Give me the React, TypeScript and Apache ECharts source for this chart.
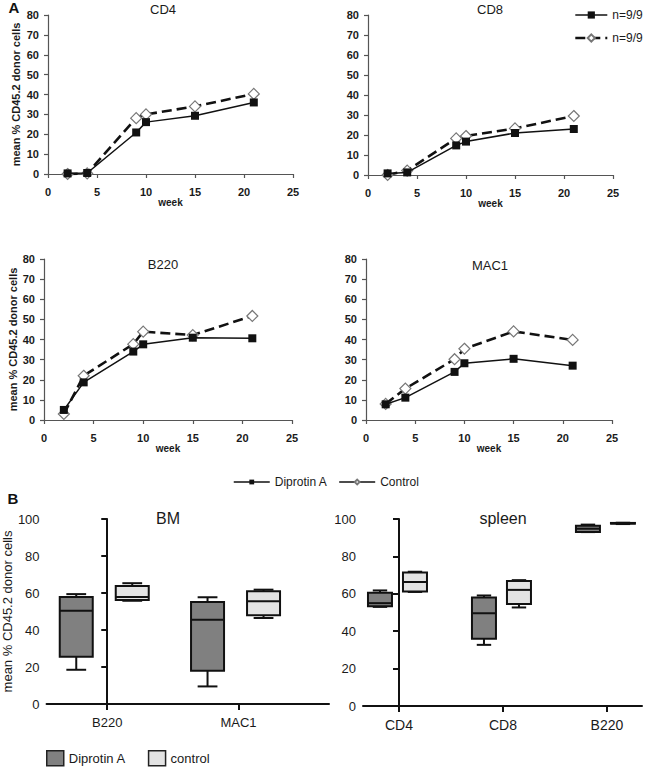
import React, { useEffect, useRef } from "react";
import * as echarts from "echarts";

// ---------- data ----------
const weeks = [2, 4, 9, 10, 15, 21];
const cd4Diprotin = [0.3, 0.5, 20.9, 26.1, 29.3, 36];
const cd4Control = [0, 0.3, 28.1, 30, 34, 40.3];
const cd8Diprotin = [0.8, 1.3, 14.8, 16.7, 21, 23];
const cd8Control = [0, 2.2, 18.3, 19.5, 23.3, 29.5];
const b220Diprotin = [5, 18.7, 34, 37.6, 40.9, 40.6];
const b220Control = [3, 22, 37.7, 43.9, 42.2, 51.7];
const mac1Diprotin = [7.8, 11.1, 23.9, 28.2, 30.4, 27];
const mac1Control = [8, 15.6, 30.2, 35.4, 44, 39.8];
const lineTitles = ["CD4", "CD8", "B220", "MAC1"];

const bmCategories = ["B220", "MAC1"];
// [min, Q1, median, Q3, max]
const bmDiprotin = [
  [18.5, 25.6, 50.4, 57.8, 59.4],
  [9.5, 18, 45.6, 55.1, 57.7],
];
const bmControl = [
  [55.8, 56.2, 57.8, 63.8, 65.3],
  [46.5, 48, 55.5, 61, 61.8],
];
const spleenCategories = ["CD4", "CD8", "B220"];
const spleenDiprotin = [
  [53, 53.3, 55, 60.5, 61.8],
  [32.7, 35.9, 49.6, 58, 59.1],
  [93, 93, 94.8, 96.4, 97],
];
const spleenControl = [
  [61, 61.2, 66.3, 71.4, 71.8],
  [52.7, 54.5, 62.1, 66.8, 67.3],
  [97.3, 97.5, 97.7, 97.9, 98],
];
const boxTitles = ["BM", "spleen"];
const yName = "mean % CD45.2 donor cells";
const legendCount = "n=9/9";

// ---------- layout / style ----------
const FONT = "'Liberation Sans', Arial, Helvetica, sans-serif";
const TXT = "#1a1a1a";
const AXC = "#555";

const lineGrids = [
  { left: 48, top: 15, width: 245, height: 159 },
  { left: 368, top: 15, width: 245, height: 160 },
  { left: 44, top: 259, width: 248, height: 161 },
  { left: 366, top: 259, width: 246, height: 161 },
];
const boxGrids = [
  { left: 45, top: 519, width: 284, height: 185 },
  { left: 363, top: 519, width: 279, height: 187 },
];
const lineTitlePos = [
  [163, 9],
  [490, 9],
  [163, 264],
  [490, 265],
];
const boxTitlePos = [
  [168, 518],
  [503, 518],
];
const lineSets = [
  [cd4Diprotin, cd4Control],
  [cd8Diprotin, cd8Control],
  [b220Diprotin, b220Control],
  [mac1Diprotin, mac1Control],
];
// per panel: [diprotin offset, control offset] (px), box width (px)
const boxOffsets = [
  [-31, 25],
  [-19, 16],
];
const boxWidths = [33, 24];

function boxRenderer(offset: number, width: number, fill: string) {
  return (params: any, api: any) => {
    const k = api.value(0);
    const v = [1, 2, 3, 4, 5].map((d) => api.value(d));
    const xc = api.coord([k, 0])[0] + offset;
    const y = v.map((val) => api.coord([k, val])[1]);
    const [yMin, yQ1, yMed, yQ3, yMax] = y;
    const half = width / 2;
    const cap = width * 0.3;
    const st = { stroke: "#111", lineWidth: 2 };
    return {
      type: "group",
      children: [
        { type: "line", shape: { x1: xc, y1: yMax, x2: xc, y2: yQ3 }, style: st },
        { type: "line", shape: { x1: xc, y1: yQ1, x2: xc, y2: yMin }, style: st },
        { type: "line", shape: { x1: xc - cap, y1: yMax, x2: xc + cap, y2: yMax }, style: st },
        { type: "line", shape: { x1: xc - cap, y1: yMin, x2: xc + cap, y2: yMin }, style: st },
        {
          type: "rect",
          shape: { x: xc - half, y: yQ3, width: width, height: Math.max(yQ1 - yQ3, 0.5) },
          style: { fill, stroke: "#111", lineWidth: 2 },
        },
        { type: "line", shape: { x1: xc - half, y1: yMed, x2: xc + half, y2: yMed }, style: st },
      ],
    };
  };
}

function buildOption() {
  const grid: any[] = [];
  const xAxis: any[] = [];
  const yAxis: any[] = [];
  const series: any[] = [];

  lineGrids.forEach((g, i) => {
    grid.push({ ...g });
    xAxis.push({
      type: "value",
      gridIndex: i,
      min: 0,
      max: 25,
      interval: 5,
      splitLine: { show: false },
      axisLine: { show: true, lineStyle: { color: AXC, width: 1.2 } },
      axisTick: { show: true, length: 4, lineStyle: { color: AXC, width: 1.2 } },
      axisLabel: { margin: 12, fontSize: 11, fontWeight: "bold", color: TXT, fontFamily: FONT },
      name: "week",
      nameLocation: "middle",
      nameGap: 23,
      nameTextStyle: { fontSize: 10, fontWeight: "bold", color: TXT, fontFamily: FONT },
    });
    yAxis.push({
      type: "value",
      gridIndex: i,
      min: 0,
      max: 80,
      interval: 10,
      splitLine: { show: false },
      axisLine: { show: true, lineStyle: { color: AXC, width: 1.2 } },
      axisTick: { show: true, length: 4, lineStyle: { color: AXC, width: 1.2 } },
      axisLabel: { margin: 9, fontSize: 11, fontWeight: "bold", color: TXT, fontFamily: FONT },
      name: i % 2 === 0 ? yName : "",
      nameLocation: "middle",
      nameGap: i === 0 ? 27 : 24,
      nameTextStyle: { fontSize: 11, fontWeight: "bold", color: TXT, fontFamily: FONT },
    });
    const [dip, ctl] = lineSets[i];
    series.push({
      type: "line",
      name: "Control",
      xAxisIndex: i,
      yAxisIndex: i,
      data: weeks.map((w, k) => [w, ctl[k]]),
      symbol: "diamond",
      symbolSize: 11,
      lineStyle: { color: "#111", width: 2.6, type: [10, 5] },
      itemStyle: { color: "#fff", borderColor: "#777", borderWidth: 1.2 },
      z: 2,
      clip: false,
    });
    series.push({
      type: "line",
      name: "Diprotin A",
      xAxisIndex: i,
      yAxisIndex: i,
      data: weeks.map((w, k) => [w, dip[k]]),
      symbol: "rect",
      symbolSize: 8,
      lineStyle: { color: "#111", width: 1.5 },
      itemStyle: { color: "#111" },
      z: 3,
      clip: false,
    });
  });

  const boxCats = [bmCategories, spleenCategories];
  const boxData = [
    [bmDiprotin, bmControl],
    [spleenDiprotin, spleenControl],
  ];
  const boxRanges = [
    [-0.462, 1.689],
    [-0.346, 2.337],
  ];
  boxGrids.forEach((g, j) => {
    const idx = 4 + j;
    const cats = boxCats[j];
    const ticks = cats.map((_, k) => k);
    grid.push({ ...g });
    xAxis.push({
      type: "value",
      gridIndex: idx,
      min: boxRanges[j][0],
      max: boxRanges[j][1],
      splitLine: { show: false },
      axisLine: { show: true, lineStyle: { color: "#111", width: 2 } },
      axisTick: { show: true, length: 6, customValues: ticks, lineStyle: { color: "#111", width: 2 } },
      axisLabel: {
        customValues: ticks,
        formatter: (v: number) => cats[Math.round(v)] ?? "",
        margin: 12,
        fontSize: j === 0 ? 13 : 14,
        color: TXT,
        fontFamily: FONT,
      },
    });
    yAxis.push({
      type: "value",
      gridIndex: idx,
      min: 0,
      max: 100,
      interval: 20,
      splitLine: { show: false },
      axisLine: { show: true, lineStyle: { color: "#111", width: 2 } },
      axisTick: { show: true, length: 6, lineStyle: { color: "#111", width: 2 } },
      axisLabel: { margin: 7, fontSize: 13, color: TXT, fontFamily: FONT },
      name: j === 0 ? yName : "",
      nameLocation: "middle",
      nameGap: 29,
      nameTextStyle: { fontSize: 13, color: TXT, fontFamily: FONT },
    });
    const [dip, ctl] = boxData[j];
    series.push({
      type: "custom",
      name: "Diprotin A",
      xAxisIndex: idx,
      yAxisIndex: idx,
      renderItem: boxRenderer(boxOffsets[j][0], boxWidths[j], "#808080"),
      encode: { x: 0, y: [1, 2, 3, 4, 5] },
      data: dip.map((d, k) => [k, ...d]),
      itemStyle: { color: "#808080" },
      clip: false,
      silent: true,
    });
    series.push({
      type: "custom",
      name: "control",
      xAxisIndex: idx,
      yAxisIndex: idx,
      renderItem: boxRenderer(boxOffsets[j][1], boxWidths[j], "#e3e3e3"),
      encode: { x: 0, y: [1, 2, 3, 4, 5] },
      data: ctl.map((d, k) => [k, ...d]),
      itemStyle: { color: "#e3e3e3" },
      clip: false,
      silent: true,
    });
  });

  const titleTexts: any[] = [];
  lineTitles.forEach((t, i) => {
    titleTexts.push({
      type: "text",
      x: lineTitlePos[i][0],
      y: lineTitlePos[i][1],
      style: { text: t, fontSize: 13, fill: TXT, fontFamily: FONT, align: "center", verticalAlign: "middle" },
    });
  });
  boxTitles.forEach((t, j) => {
    titleTexts.push({
      type: "text",
      x: boxTitlePos[j][0],
      y: boxTitlePos[j][1],
      style: { text: t, fontSize: 16, fill: TXT, fontFamily: FONT, align: "center", verticalAlign: "middle" },
    });
  });
  titleTexts.push({
    type: "text",
    x: 14,
    y: 7,
    style: { text: "A", fontSize: 15, fontWeight: "bold", fill: "#111", fontFamily: FONT, align: "center", verticalAlign: "middle" },
  });
  titleTexts.push({
    type: "text",
    x: 13,
    y: 498,
    style: { text: "B", fontSize: 15, fontWeight: "bold", fill: "#111", fontFamily: FONT, align: "center", verticalAlign: "middle" },
  });

  return {
    animation: false,
    backgroundColor: "#fff",
    textStyle: { fontFamily: FONT },
    grid,
    xAxis,
    yAxis,
    series,
    graphic: titleTexts,
    legend: [
      {
        left: 574,
        top: 8,
        padding: 0,
        orient: "vertical",
        itemWidth: 32,
        itemHeight: 9,
        itemGap: 9,
        selectedMode: false,
        data: [
          { name: "Diprotin A", lineStyle: { width: 1.5 } },
          { name: "Control", lineStyle: { width: 2.6 } },
        ],
        formatter: () => legendCount,
        textStyle: { fontSize: 12, color: TXT, lineHeight: 14, fontFamily: FONT },
      },
      {
        left: 233,
        top: 475,
        padding: 0,
        orient: "horizontal",
        itemWidth: 36,
        itemHeight: 6,
        itemGap: 11,
        selectedMode: false,
        data: [
          { name: "Diprotin A", lineStyle: { width: 1.5 } },
          { name: "Control", lineStyle: { width: 1.5, type: "solid" } },
        ],
        textStyle: { fontSize: 12, color: TXT, lineHeight: 14, fontFamily: FONT },
      },
      {
        left: 46,
        top: 750,
        padding: 0,
        orient: "horizontal",
        itemWidth: 17,
        itemHeight: 15,
        itemGap: 22,
        selectedMode: false,
        data: [
          { name: "Diprotin A", icon: "rect", itemStyle: { color: "#808080", borderColor: "#222", borderWidth: 1.5 } },
          { name: "control", icon: "rect", itemStyle: { color: "#e3e3e3", borderColor: "#222", borderWidth: 1.5 } },
        ],
        textStyle: { fontSize: 13, color: TXT, lineHeight: 15, fontFamily: FONT },
      },
    ],
  };
}

export default function App() {
  const ref = useRef<HTMLDivElement>(null);
  useEffect(() => {
    if (!ref.current) return;
    const chart = echarts.init(ref.current, null, { renderer: "svg" });
    chart.setOption(buildOption() as any);
    return () => chart.dispose();
  }, []);
  return (
    <div
      ref={ref}
      style={{ position: "absolute", left: 0, top: 0, width: 649, height: 767, background: "#fff" }}
    />
  );
}
